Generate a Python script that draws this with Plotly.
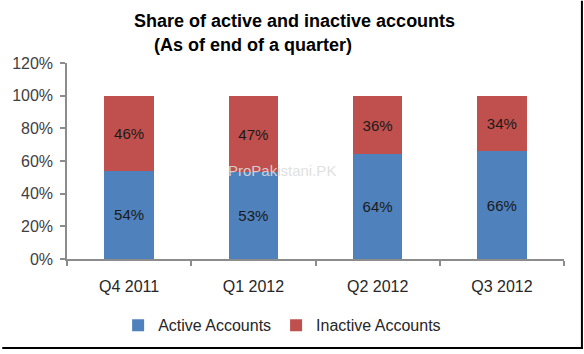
import plotly.graph_objects as go

categories = ["Q4 2011", "Q1 2012", "Q2 2012", "Q3 2012"]
active = [54, 53, 64, 66]
inactive = [46, 47, 36, 34]
y_ticks = [0, 20, 40, 60, 80, 100, 120]
y_tick_labels = [f"{v}%" for v in y_ticks]

W, H = 584, 354
L, R, T, B = 65, 20, 63, 93
pw, ph = W - L - R, H - T - B

def px_x(x):
    return (x - L) / pw

def px_y(y):
    return (H - B - y) / ph

font = "Liberation Sans, Arial, sans-serif"

fig = go.Figure()
fig.add_trace(go.Bar(
    x=categories, y=active, name="Active Accounts",
    marker=dict(color="#4F81BD", line=dict(width=0)),
    text=[f"{v}%" for v in active], textposition="inside",
    insidetextanchor="middle",
    textfont=dict(color="#1a1a1a", size=15, family=font),
))
fig.add_trace(go.Bar(
    x=categories, y=inactive, name="Inactive Accounts",
    marker=dict(color="#C0504D", line=dict(width=0)),
    text=[f"{v}%" for v in inactive], textposition="inside",
    insidetextanchor="middle",
    textfont=dict(color="#1a1a1a", size=15, family=font),
))

fig.update_layout(
    barmode="stack",
    bargap=0.6,
    width=W, height=H,
    margin=dict(l=L, r=R, t=T, b=B),
    paper_bgcolor="white", plot_bgcolor="white",
    font=dict(family=font, size=15, color="#404040"),
    uniformtext=dict(minsize=15, mode="show"),
    legend=dict(orientation="h", x=px_x(281), xanchor="center",
                y=px_y(328), yanchor="middle", traceorder="normal",
                font=dict(size=16, color="#262626", family=font),
                itemwidth=30, tracegroupgap=0),
    xaxis=dict(showline=True, linecolor="#8c8c8c", linewidth=1.5,
               ticks="outside", tickson="boundaries", ticklen=5,
               tickcolor="#8c8c8c", tickwidth=1.5,
               ticklabelstandoff=12,
               tickfont=dict(size=16, color="#262626"),
               showgrid=False, zeroline=False),
    yaxis=dict(range=[0, 120], tickvals=y_ticks, ticktext=y_tick_labels,
               showline=True, linecolor="#8c8c8c", linewidth=1.5,
               ticks="outside", ticklen=5, tickcolor="#8c8c8c", tickwidth=1.5,
               ticklabelstandoff=4,
               tickfont=dict(size=16, color="#404040"),
               showgrid=False, zeroline=False),
    annotations=[
        dict(text="<b>Share of active and inactive accounts</b>",
             xref="paper", yref="paper", x=px_x(293), y=px_y(21),
             xanchor="center", yanchor="middle", showarrow=False,
             font=dict(size=18, color="#000000", family=font)),
        dict(text="<b>(As of end of a quarter)</b>",
             xref="paper", yref="paper", x=px_x(252), y=px_y(45),
             xanchor="center", yanchor="middle", showarrow=False,
             font=dict(size=18, color="#000000", family=font)),
        dict(text="ProPakistani.PK",
             xref="paper", yref="paper", x=px_x(281), y=px_y(172),
             xanchor="center", yanchor="middle", showarrow=False,
             font=dict(size=15, color="rgba(220,220,220,0.9)", family=font)),
    ],
    shapes=[
        dict(type="line", xref="paper", yref="paper",
             x0=px_x(582), x1=px_x(582), y0=px_y(0), y1=px_y(352),
             line=dict(color="black", width=2)),
        dict(type="line", xref="paper", yref="paper",
             x0=px_x(0), x1=px_x(583), y0=px_y(351), y1=px_y(351),
             line=dict(color="black", width=2)),
    ],
)

fig.write_html("out.html")
